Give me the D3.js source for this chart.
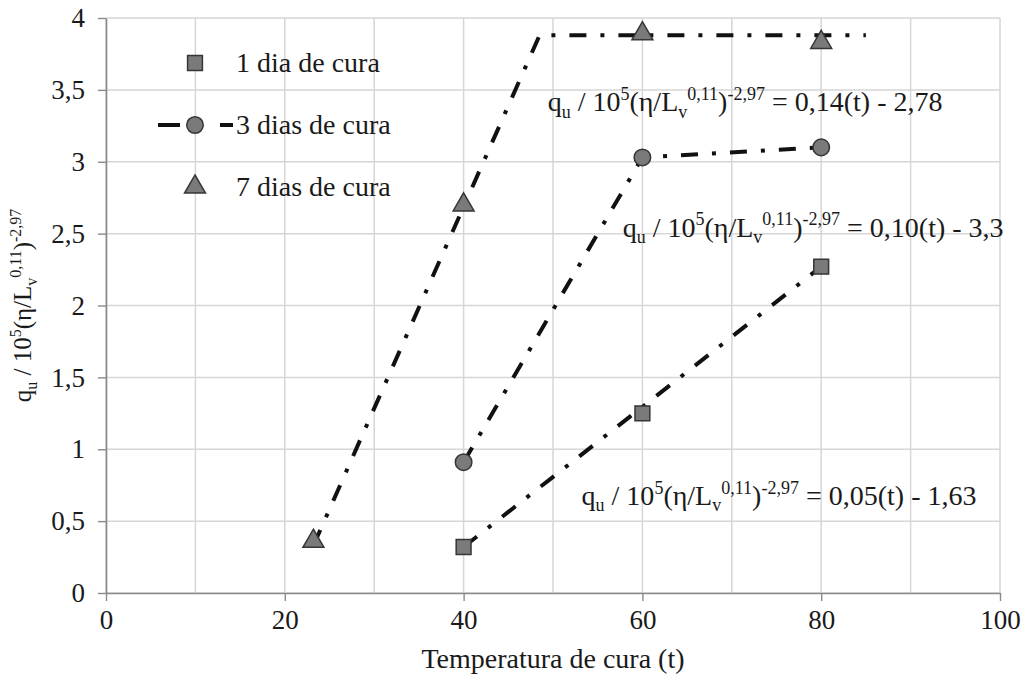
<!DOCTYPE html>
<html>
<head>
<meta charset="utf-8">
<script src="https://cdn.jsdelivr.net/npm/d3@7"></script>
<style>
  html, body { margin: 0; padding: 0; background: #fff; }
  svg { display: block; }
  svg text { font-family: "Liberation Serif", "Times New Roman", serif; }
</style>
</head>
<body>
<svg id="chart" width="1030" height="675" font-family="Liberation Serif"></svg>
<script>
// Measured points for each curing time
const temp1 = [40, 60, 80];
const val1  = [0.32, 1.25, 2.27];
const temp3 = [40, 60, 80];
const val3  = [0.91, 3.03, 3.10];
const temp7 = [23.2, 40, 60, 80];
const val7  = [0.36, 2.70, 3.89, 3.83];

// Bilinear fitted trends
const fitT1 = [40, 80];
const fitV1 = [0.32, 2.27];
const fitT3 = [40, 60, 80];
const fitV3 = [0.91, 3.03, 3.10];
const fitT7 = [23.2, 48.5, 85];
const fitV7 = [0.33, 3.88, 3.88];

const seriesNames = ["1 dia de cura", "3 dias de cura", "7 dias de cura"];
const fitRhs = ["0,14(t) - 2,78", "0,10(t) - 3,3", "0,05(t) - 1,63"];

const xTicks = [0, 20, 40, 60, 80, 100];
const yTicks = [0, 0.5, 1, 1.5, 2, 2.5, 3, 3.5, 4];
const xGrid = d3.range(0, 101, 10);
const fmt = v => String(v).replace(".", ",");

const svg = d3.select("#chart");
const FONT = "Liberation Serif";
const L = 106, R = 1000, T = 18, B = 593;
const x = d3.scaleLinear().domain([0, 100]).range([L, R]);
const y = d3.scaleLinear().domain([0, 4]).range([B, T]);

const gridColor = "#d6d6d6";
const axisColor = "#8a8a8a";
const textColor = "#1a1a1a";
const markFill = "#7a7a7a";
const markStroke = "#363636";

// grid
svg.append("g").selectAll("line").data(xGrid).join("line")
  .attr("x1", d => x(d)).attr("x2", d => x(d))
  .attr("y1", y(0)).attr("y2", y(4))
  .attr("stroke", gridColor).attr("stroke-width", 1.5);
svg.append("g").selectAll("line").data(yTicks).join("line")
  .attr("x1", x(0)).attr("x2", x(100))
  .attr("y1", d => y(d)).attr("y2", d => y(d))
  .attr("stroke", gridColor).attr("stroke-width", 1.5);

// axes
const yAxis = svg.append("g").attr("transform", `translate(${L},0)`)
  .call(d3.axisLeft(y).tickValues(yTicks).tickFormat(fmt).tickSize(8).tickSizeOuter(0).tickPadding(13));
const xAxis = svg.append("g").attr("transform", `translate(0,${B})`)
  .call(d3.axisBottom(x).tickValues(xTicks).tickFormat(fmt).tickSize(8).tickSizeOuter(0).tickPadding(9));
[yAxis, xAxis].forEach(a => {
  a.attr("font-family", FONT).attr("font-size", 27);
  a.select(".domain").attr("stroke", axisColor).attr("stroke-width", 1.6);
  a.selectAll(".tick line").attr("stroke", axisColor).attr("stroke-width", 1.4);
  a.selectAll(".tick text").attr("fill", textColor);
});

// trend lines
const dashStyle = "17,14,4,14";
const line = d3.line().x(d => x(d[0])).y(d => y(d[1]));
[[fitT7, fitV7], [fitT3, fitV3], [fitT1, fitV1]].forEach(([ts, vs]) => {
  svg.append("path")
    .datum(ts.map((t, i) => [t, vs[i]]))
    .attr("d", line)
    .attr("fill", "none")
    .attr("stroke", "#111")
    .attr("stroke-width", 4)
    .attr("stroke-dasharray", dashStyle);
});

// markers
const sym = [d3.symbolSquare, d3.symbolCircle, d3.symbolTriangle];
const symSize = [220, 215, 190];
const pts = [[temp1, val1], [temp3, val3], [temp7, val7]];
pts.forEach(([ts, vs], k) => {
  svg.append("g").selectAll("path").data(ts.map((t, i) => [t, vs[i]])).join("path")
    .attr("d", d3.symbol().type(sym[k]).size(symSize[k]))
    .attr("transform", d => `translate(${x(d[0])},${y(d[1])})`)
    .attr("fill", markFill).attr("stroke", markStroke).attr("stroke-width", 1.5);
});

// legend
const legY = [63, 125, 187];
const legG = svg.append("g");
legG.append("line")
  .attr("x1", 158).attr("x2", 233).attr("y1", legY[1]).attr("y2", legY[1])
  .attr("stroke", "#111").attr("stroke-width", 4)
  .attr("stroke-dasharray", "22,18,3,19,13");
seriesNames.forEach((name, k) => {
  legG.append("path")
    .attr("d", d3.symbol().type(sym[k]).size(symSize[k]))
    .attr("transform", `translate(195,${legY[k]})`)
    .attr("fill", markFill).attr("stroke", markStroke).attr("stroke-width", 1.5);
  legG.append("text")
    .attr("x", 236).attr("y", legY[k] + 9)
    .attr("font-family", FONT).attr("font-size", 28)
    .attr("fill", textColor)
    .text(name);
});

// expression "q_u / 10^5(η/L_v^0,11)^-2,97" built from tspans
function expr(sel, size, rhs) {
  const small = Math.round(size * 0.64);
  const parts = [
    ["q", 0], ["u", -1], [" / 10", 0], ["5", 1], ["(η/L", 0], ["v", -1],
    ["0,11", 1], [")", 0], ["-2,97", 1]
  ];
  if (rhs) parts.push([" = " + rhs, 0]);
  const off = lv => lv === 1 ? -0.4 * size : lv === -1 ? 0.22 * size : 0;
  let level = 0;
  parts.forEach(([s, lv]) => {
    sel.append("tspan")
      .attr("dy", off(lv) - off(level))
      .attr("font-size", lv === 0 ? size : small)
      .text(s);
    level = lv;
  });
}

const eqPos = [[49.4, 3.35], [57.8, 2.48], [53.2, 0.61]];
fitRhs.forEach((rhs, k) => {
  const t = svg.append("text")
    .attr("x", x(eqPos[k][0])).attr("y", y(eqPos[k][1]))
    .attr("font-family", FONT)
    .attr("fill", textColor);
  expr(t, 28, rhs);
});

// axis titles
svg.append("text")
  .attr("x", (L + R) / 2).attr("y", 668)
  .attr("text-anchor", "middle").attr("fill", textColor)
  .attr("font-family", FONT).attr("font-size", 28)
  .text("Temperatura de cura (t)");

const yt = svg.append("text")
  .attr("transform", `translate(31,${(T + B) / 2}) rotate(-90)`)
  .attr("text-anchor", "middle").attr("fill", textColor)
  .attr("font-family", FONT);
expr(yt, 25, null);
</script>
</body>
</html>
